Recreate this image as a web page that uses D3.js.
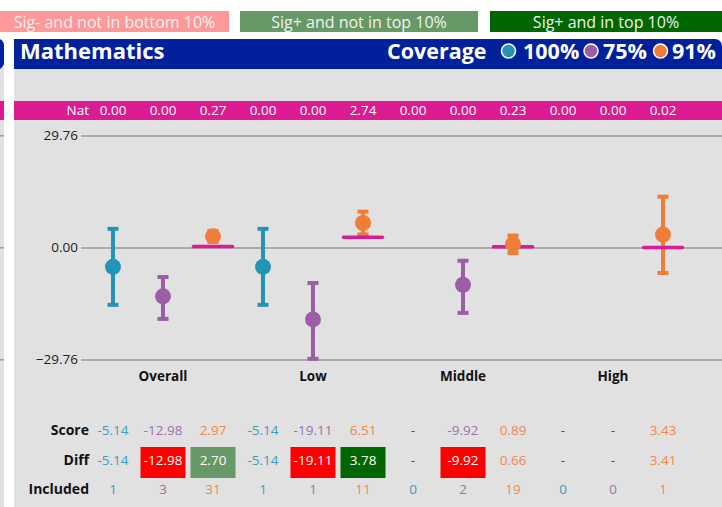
<!DOCTYPE html>
<meta charset="utf-8">
<head>
    <script src="https://d3js.org/d3.v7.min.js"></script>
    <style>
        body { margin: 0; background: #fff; font-family: "Open Sans", sans-serif; }
        svg text { font-family: "Open Sans", sans-serif; }
        .tick line { stroke: #999; stroke-width: 1.5px; }
        .tick text { font-size: 13.5px; fill: #222; }
    </style>
</head>
<body>
<svg id="chart" width="722" height="507"></svg>
<script>

    // ---- data ----
    var groups = ["Overall", "Low", "Middle", "High"];
    var seriesNames = ["100%", "75%", "91%"];
    var seriesColors = ["#2394b6", "#9c5ea7", "#ef7d37"];
    var textColors = ["#3c9dc2", "#a070b2", "#f0894c"];

    var score = [-5.14, -12.98, 2.97, -5.14, -19.11, 6.51, null, -9.92, 0.89, null, null, 3.43];
    var diff = [-5.14, -12.98, 2.70, -5.14, -19.11, 3.78, null, -9.92, 0.66, null, null, 3.41];
    var upper = [4.96, -7.84, 4.4, 4.96, -9.43, 9.54, null, -3.52, 3.18, null, null, 13.51];
    var lower = [-15.24, -18.97, 1.5, -15.24, -29.57, 3.48, null, -17.38, -1.48, null, null, -6.78];
    var nat = [0.00, 0.00, 0.27, 0.00, 0.00, 2.74, 0.00, 0.00, 0.23, 0.00, 0.00, 0.02];
    var included = [1, 3, 31, 1, 1, 11, 0, 2, 19, 0, 0, 1];
    // significance class of each diff cell
    var sig = ["", "neg", "pos", "", "neg", "top", "", "neg", "", "", "", ""];
    var yTicks = [29.76, 0, -29.76];

    var legendItems = ["Sig- and not in bottom 10%", "Sig+ and not in top 10%", "Sig+ and in top 10%"];
    var legendColors = ["#ff9999", "#669966", "#006600"];
    var sigColors = {neg: "#ff0000", pos: "#669966", top: "#006600"};

    var cols = d3.range(score.length);

    var svg = d3.select("#chart");
    var navy = "#00209c", magenta = "#dc1a91", panel = "#e1e1e1";

    // legend bar
    var legendX = [[0, 229], [240, 478], [490, 722]];
    legendItems.forEach(function (t, i) {
        svg.append("rect")
            .attr("x", legendX[i][0]).attr("y", 11)
            .attr("width", legendX[i][1] - legendX[i][0]).attr("height", 21)
            .attr("fill", legendColors[i]);
        svg.append("text")
            .attr("x", (legendX[i][0] + legendX[i][1]) / 2).attr("y", 27.5)
            .attr("text-anchor", "middle")
            .style("font-size", "16px").style("fill", "#f2f2f2")
            .text(t);
    });

    // cut-off card on the left
    svg.append("rect").attr("x", -20).attr("y", 68).attr("width", 24).attr("height", 460).attr("fill", panel);
    svg.append("rect").attr("x", -20).attr("y", 39).attr("width", 24).attr("height", 30).attr("rx", 6).attr("fill", navy);
    svg.append("rect").attr("x", -20).attr("y", 101).attr("width", 24).attr("height", 19).attr("fill", magenta);
    yTicks.forEach(function (v, i) {
        svg.append("rect").attr("x", -20).attr("y", [135, 247, 359][i]).attr("width", 24).attr("height", 1.5).attr("fill", "#999");
    });

    // main card
    svg.append("rect").attr("x", 14).attr("y", 60).attr("width", 720).attr("height", 460).attr("fill", panel);
    svg.append("rect").attr("x", 14).attr("y", 39).attr("width", 708).attr("height", 30).attr("rx", 7).attr("fill", navy);
    svg.append("rect").attr("x", 14).attr("y", 50).attr("width", 708).attr("height", 19).attr("fill", navy);
    svg.append("rect").attr("x", 14).attr("y", 39).attr("width", 20).attr("height", 30).attr("fill", navy);

    svg.append("text").attr("x", 20).attr("y", 59)
        .style("font-size", "22px").style("font-weight", "bold").style("fill", "#fff")
        .text("Mathematics");

    // coverage legend in header
    var cov = svg.append("g");
    cov.append("text").attr("x", 387).attr("y", 59)
        .style("font-size", "21.5px").style("font-weight", "bold").style("fill", "#fff")
        .text("Coverage");
    var covPos = [[508.5, 523], [591, 603], [660.5, 672]];
    seriesNames.forEach(function (s, i) {
        cov.append("circle").attr("cx", covPos[i][0]).attr("cy", 51).attr("r", 7)
            .attr("fill", seriesColors[i]).attr("stroke", "#fff").attr("stroke-width", 1.5);
        cov.append("text").attr("x", covPos[i][1]).attr("y", 59)
            .style("font-size", "21.5px").style("font-weight", "bold").style("fill", "#fff")
            .text(s);
    });

    // scales
    var x = d3.scaleBand().domain(cols).range([88, 688]);
    var cx = function (i) { return x(i) + x.bandwidth() / 2; };
    var y = d3.scaleLinear().domain([-29.76, 29.76]).range([359.5, 135.5]);

    // Nat band
    svg.append("rect").attr("x", 14).attr("y", 101).attr("width", 720).attr("height", 19).attr("fill", magenta);
    svg.append("text").attr("x", 89).attr("y", 115).attr("text-anchor", "end")
        .style("font-size", "13.5px").style("fill", "#fff").text("Nat");
    svg.selectAll(".nat").data(cols).enter().append("text")
        .attr("x", cx).attr("y", 115).attr("text-anchor", "middle")
        .style("font-size", "13.5px").style("fill", "#fff")
        .text(function (i) { return nat[i].toFixed(2); });

    // y axis with gridlines
    var axis = svg.append("g").attr("transform", "translate(81,0)")
        .call(d3.axisLeft(y).tickValues(yTicks).tickSizeInner(-641).tickSizeOuter(0).tickPadding(3)
            .tickFormat(d3.format(".2f")));
    axis.select(".domain").remove();
    axis.selectAll(".tick text").attr("x", -3);

    // group labels
    groups.forEach(function (g, gi) {
        svg.append("text").attr("x", cx(gi * 3 + 1)).attr("y", 381).attr("text-anchor", "middle")
            .style("font-size", "13.5px").style("font-weight", "bold").style("fill", "#111")
            .text(g);
    });

    var present = cols.filter(function (i) { return score[i] !== null; });

    // error bars
    var bars = svg.append("g");
    present.forEach(function (i) {
        var c = seriesColors[i % 3];
        bars.append("line").attr("x1", cx(i)).attr("x2", cx(i))
            .attr("y1", y(upper[i])).attr("y2", y(lower[i]))
            .attr("stroke", c).attr("stroke-width", 4);
        [upper[i], lower[i]].forEach(function (v) {
            bars.append("rect").attr("x", cx(i) - 5.5).attr("y", y(v) - 2)
                .attr("width", 11).attr("height", 4).attr("fill", c);
        });
    });

    // national lines
    svg.selectAll(".natline").data(cols.filter(function (i) { return nat[i] > 0; })).enter().append("line")
        .attr("x1", function (i) { return cx(i) - 19.5; })
        .attr("x2", function (i) { return cx(i) + 19.5; })
        .attr("y1", function (i) { return y(nat[i]); })
        .attr("y2", function (i) { return y(nat[i]); })
        .attr("stroke", magenta).attr("stroke-width", 3.5).attr("stroke-linecap", "round");

    // points
    svg.selectAll(".pt").data(present).enter().append("circle")
        .attr("cx", cx).attr("cy", function (i) { return y(score[i]); }).attr("r", 8)
        .attr("fill", function (i) { return seriesColors[i % 3]; });

    // table
    var rowY = [435, 465, 494];
    ["Score", "Diff", "Included"].forEach(function (t, r) {
        svg.append("text").attr("x", 89).attr("y", rowY[r]).attr("text-anchor", "end")
            .style("font-size", "14px").style("font-weight", "bold").style("fill", "#111")
            .text(t);
    });

    svg.selectAll(".sigbox").data(cols.filter(function (i) { return sig[i]; })).enter().append("rect")
        .attr("x", function (i) { return cx(i) - 22.5; }).attr("y", 447)
        .attr("width", 45).attr("height", 31)
        .attr("fill", function (i) { return sigColors[sig[i]]; });

    function cell(arr, r, fmt) {
        svg.selectAll(".r" + r).data(cols).enter().append("text")
            .attr("x", cx).attr("y", rowY[r]).attr("text-anchor", "middle")
            .style("font-size", "13.5px")
            .style("fill", function (i) {
                if (arr[i] === null) return "#555";
                if (r === 1 && sig[i]) return "#fff";
                return textColors[i % 3];
            })
            .text(function (i) { return arr[i] === null ? "-" : fmt(arr[i]); });
    }
    cell(score, 0, function (v) { return v.toFixed(2); });
    cell(diff, 1, function (v) { return v.toFixed(2); });
    cell(included, 2, function (v) { return v; });

</script>
</body>
